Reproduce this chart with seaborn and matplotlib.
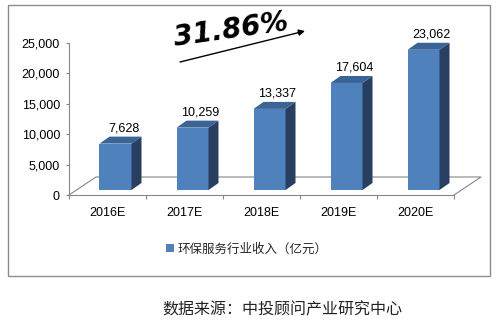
import matplotlib
matplotlib.use("Agg")
import matplotlib.pyplot as plt
from matplotlib.patches import Polygon, Rectangle, Patch
from matplotlib.lines import Line2D
from matplotlib.ticker import FuncFormatter
import seaborn as sns
import pandas as pd

# Data
years = ["2016E", "2017E", "2018E", "2019E", "2020E"]
revenue = [7628, 10259, 13337, 17604, 23062]
series_label = "环保服务行业收入（亿元）"
growth_label = "31.86%"
source_label = "数据来源：中投顾问产业研究中心"

sns.set_style("white")
plt.rcParams["font.family"] = ["Liberation Sans", "Noto Sans CJK SC", "DejaVu Sans"]

W, H = 502, 323
fig = plt.figure(figsize=(W / 100, H / 100), dpi=100)
fig.patch.set_facecolor("white")

# Axes placed so that the plotting area spans x 69..454 px, y 43..195 px
ax_l, ax_r, ax_t, ax_b = 69, 454, 43, 195
ax = fig.add_axes([ax_l / W, (H - ax_b) / H, (ax_r - ax_l) / W, (ax_b - ax_t) / H])

front_c = "#4F81BD"
side_c = "#283F61"
top_c = "#3B6496"
grid_c = "#868686"

df = pd.DataFrame({"year": years, "revenue": revenue})
sns.barplot(data=df, x="year", y="revenue", color=front_c, saturation=1,
            width=32 / 77, ax=ax, edgecolor="none", zorder=3)

ax.set_xlim(-0.5, 4.5)
ax.set_ylim(0, 25000)

# pixel -> data conversion factors
px_x = 5 / (ax_r - ax_l)
px_y = 25000 / (ax_b - ax_t)

# pseudo-3D geometry
shift_x = 8 * px_x        # front face offset to the right of category centre
base = 5 * px_y           # front face lifted above the floor front edge
depth_x = 10 * px_x
depth_y = 7 * px_y

# floor parallelogram (drawn behind the bars)
floor_dx = 27 * px_x
floor_dy = 18 * px_y
floor_pts = [(-0.5, 0), (-0.5 + floor_dx, floor_dy), (4.5 + floor_dx, floor_dy), (4.5, 0)]
ax.add_line(Line2D([p[0] for p in floor_pts], [p[1] for p in floor_pts],
                   color=grid_c, lw=0.8, clip_on=False, zorder=1))

for p, val in zip(list(ax.patches), revenue):
    p.set_x(p.get_x() + shift_x)
    p.set_y(base)
    p.set_zorder(3)
    x0 = p.get_x()
    x1 = x0 + p.get_width()
    top = base + p.get_height()
    side = Polygon([(x1, base), (x1 + depth_x, base + depth_y),
                    (x1 + depth_x, top + depth_y), (x1, top)],
                   closed=True, facecolor=side_c, edgecolor="none", zorder=3, clip_on=False)
    lid = Polygon([(x0, top), (x0 + depth_x, top + depth_y),
                   (x1 + depth_x, top + depth_y), (x1, top)],
                  closed=True, facecolor=top_c, edgecolor="none", zorder=3, clip_on=False)
    ax.add_patch(side)
    ax.add_patch(lid)
    ax.text((x0 + x1) / 2 + 8 * px_x, top + depth_y + 2 * px_y, f"{val:,}",
            ha="center", va="bottom", fontsize=9, color="black", clip_on=False)

# spines and ticks
for s in ["top", "right"]:
    ax.spines[s].set_visible(False)
for s in ["left", "bottom"]:
    ax.spines[s].set_color(grid_c)
    ax.spines[s].set_linewidth(0.8)

ax.set_yticks(range(0, 25001, 5000))
ax.yaxis.set_major_formatter(FuncFormatter(lambda v, _: f"{int(v):,}"))
ax.tick_params(axis="y", which="major", direction="out", length=2.5, width=0.8,
               color=grid_c, labelsize=9, pad=4, left=True, labelcolor="black")
ax.set_xticks(range(len(years)))
ax.set_xticklabels(years)
ax.set_xticks([i - 0.5 for i in range(len(years) + 1)], minor=True)
ax.tick_params(axis="x", which="major", length=0, labelsize=9, pad=9, labelcolor="black")
ax.tick_params(axis="x", which="minor", direction="out", length=3, width=0.8,
               color=grid_c, bottom=True)
ax.set_xlabel("")
ax.set_ylabel("")
ax.grid(False)

# growth annotation
fig.text(231 / W, 1 - 30 / H, growth_label, rotation=8, ha="center", va="center",
         rotation_mode="anchor", fontsize=20, fontweight="bold", fontstyle="italic",
         family="DejaVu Sans", color="black")
ax.annotate("", xy=(305 / W, 1 - 31 / H), xytext=(180 / W, 1 - 62 / H),
            xycoords="figure fraction", textcoords="figure fraction",
            arrowprops=dict(arrowstyle="-|>", color="black", lw=1, mutation_scale=9,
                            shrinkA=0, shrinkB=0))

# legend
handle = Patch(facecolor=front_c, edgecolor="none", label=series_label)
fig.legend(handles=[handle], loc="center", bbox_to_anchor=(247 / W, 1 - 249 / H),
           frameon=False, handlelength=0.6, handleheight=0.6, handletextpad=0.3,
           prop={"family": ["Noto Sans CJK SC", "DejaVu Sans"], "size": 9})

# outer frame around the chart
fig.add_artist(Rectangle((8 / W, 1 - 276 / H), (490 - 8) / W, (276 - 5) / H,
                         transform=fig.transFigure, fill=False, edgecolor="#8C8C8C", lw=1))

# source note
fig.text(282 / W, 1 - 310 / H, source_label, ha="center", va="center", fontsize=11.5,
         family=["Noto Sans CJK SC", "DejaVu Sans"], color="#222222")

fig.savefig("out.png", dpi=100, facecolor="white")
